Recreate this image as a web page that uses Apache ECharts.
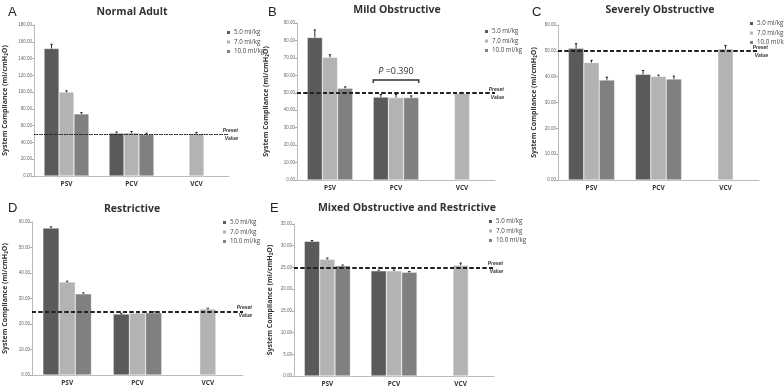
<!DOCTYPE html>
<html>
<head>
<meta charset="utf-8">
<script src="https://cdn.jsdelivr.net/npm/echarts@6/dist/echarts.min.js"></script>
<style>
html, body { margin: 0; padding: 0; background: #fff; }
#main { width: 784px; height: 389px; }
</style>
</head>
<body>
<div id="main"></div>
<script>
// categories and series
var categories = ['PSV', 'PCV', 'VCV'];
var seriesNames = ['5.0 ml/kg', '7.0 ml/kg', '10.0 ml/kg'];
var barColors = ['#5a5a5a', '#b3b3b3', '#808080'];

// A - Normal Adult  (rows: 5.0, 7.0, 10.0 ml/kg)
var meanA = [[152, 51, null], [100, 51.5, 50.5], [74, 49.5, null]];
var errA = [[5, 1.5, 0], [1.5, 1.5, 1.5], [1.5, 1.5, 0]];
// B - Mild Obstructive
var meanB = [[81.7, 47.5, null], [70.3, 47.2, 49.7], [52.6, 47.2, null]];
var errB = [[4.3, 1.5, 0], [1.5, 1.8, 0.5], [0.8, 1.0, 0]];
// C - Severely Obstructive
var meanC = [[51.0, 40.9, null], [45.5, 40.1, 50.8], [38.7, 39.1, null]];
var errC = [[1.8, 1.5, 0], [0.8, 0.5, 1.3], [1.1, 1.1, 0]];
// D - Restrictive
var meanD = [[57.6, 23.9, null], [36.5, 24.3, 25.9], [31.8, 24.4, null]];
var errD = [[0.5, 0.3, 0], [0.3, 0.3, 0.3], [0.4, 0.4, 0]];
// E - Mixed Obstructive and Restrictive
var meanE = [[31.0, 24.2, null], [26.9, 24.2, 25.5], [25.4, 23.9, null]];
var errE = [[0.2, 0.15, 0], [0.25, 0.2, 0.5], [0.15, 0.15, 0]];

var presetA = 50, presetB = 50, presetC = 50, presetD = 25, presetE = 25;
var pBracketB = { cat: 1, value: 57.3, textValue: 62, text: '0.390' };

var yMax = [180, 90, 60, 60, 35];
var yStep = [20, 10, 10, 10, 5];

var panels = [
	{ letter: 'A', title: 'Normal Adult', mean: meanA, err: errA, preset: presetA, dotted: true,
		grid: { left: 34, top: 25, width: 195, height: 151 }, nameGap: 26,
		legend: { left: 220, top: 24 }, tx: 127, ty: 2, lx: 3, ly: 1 },
	{ letter: 'B', title: 'Mild Obstructive', mean: meanB, err: errB, preset: presetB,
		grid: { left: 297, top: 23, width: 198, height: 157 }, nameGap: 28,
		legend: { left: 478, top: 23 }, tx: 392, ty: 0, lx: 263, ly: 1 },
	{ letter: 'C', title: 'Severely Obstructive', mean: meanC, err: errC, preset: presetC,
		grid: { left: 558, top: 25, width: 201, height: 155 }, nameGap: 21,
		legend: { left: 743, top: 15 }, tx: 655, ty: 0, lx: 527, ly: 1 },
	{ letter: 'D', title: 'Restrictive', mean: meanD, err: errD, preset: presetD,
		grid: { left: 30, top: 222, width: 213, height: 153 }, nameGap: 24,
		legend: { left: 216, top: 214 }, tx: 127, ty: 199, lx: 3, ly: 197 },
	{ letter: 'E', title: 'Mixed Obstructive and Restrictive', mean: meanE, err: errE, preset: presetE,
		grid: { left: 294, top: 224, width: 200, height: 152 }, nameGap: 21,
		legend: { left: 482, top: 213 }, tx: 402, ty: 198, lx: 265, ly: 197 }
];

var BAR_FRAC = 0.23;

var myChart = echarts.init(document.getElementById('main'));
var titles = [], grids = [], xAxes = [], yAxes = [], legends = [], series = [];

panels.forEach(function(p, k) {
	titles.push({
		text: p.letter, left: p.lx, top: p.ly,
		textStyle: { fontSize: 13, fontWeight: 'normal', color: '#222', fontFamily: 'Liberation Sans' }
	});
	titles.push({
		text: p.title, left: p.tx, top: p.ty, textAlign: 'center',
		textStyle: { fontSize: 10.5, fontWeight: 'bold', color: '#333', fontFamily: 'Open Sans' }
	});
	grids.push(p.grid);
	xAxes.push({
		type: 'category', gridIndex: k, data: categories,
		axisLine: { lineStyle: { color: '#aaa', width: 0.8 } },
		axisTick: { length: 3, lineStyle: { color: '#aaa' } },
		axisLabel: { fontSize: 6.5, fontWeight: 'bold', color: '#333', margin: 5, fontFamily: 'Open Sans' }
	});
	yAxes.push({
		type: 'value', gridIndex: k, min: 0, max: yMax[k], interval: yStep[k],
		name: 'System Compliance (ml/cmH\u2082O)', nameLocation: 'middle', nameGap: p.nameGap,
		nameTextStyle: { fontSize: 7, fontWeight: 'bold', color: '#333', fontFamily: 'Open Sans' },
		splitLine: { show: false },
		axisLine: { show: true, lineStyle: { color: '#aaa', width: 0.8 } },
		axisTick: { show: true, length: 2, lineStyle: { color: '#aaa' } },
		axisLabel: {
			fontSize: 4.5, color: '#666', margin: 2,
			formatter: function(v) { return v.toFixed(2); }
		}
	});
	legends.push({
		left: p.legend.left, top: p.legend.top, orient: 'vertical',
		icon: 'rect', itemWidth: 5, itemHeight: 5, itemGap: 2.5,
		data: seriesNames.map(function(n, i) { return { name: n, itemStyle: { color: barColors[i] } }; }),
		textStyle: { fontSize: 6.2, color: '#444', padding: [0, 0, 0, -2], fontFamily: 'Open Sans' },
		selectedMode: false
	});

	seriesNames.forEach(function(name, s) {
		var bar = {
			name: name, type: 'bar', xAxisIndex: k, yAxisIndex: k,
			barWidth: (BAR_FRAC * 100) + '%', barGap: '0%',
			itemStyle: { color: barColors[s], borderColor: '#fff', borderWidth: 0.4 },
			data: p.mean[s], silent: true, animation: false
		};
		if (s === 1) {
			bar.markLine = {
				silent: true, symbol: 'none', animation: false,
				lineStyle: p.dotted
					? { color: '#222', type: [1.5, 1], width: 1 }
					: { color: '#222', type: [4, 2.5], width: 1.8 },
				data: [
					{ yAxis: p.preset, label: { show: true, position: 'insideEndTop', formatter: 'Preset', distance: [-9, 1], fontSize: 5, fontStyle: 'italic', fontWeight: 'bold', color: '#333' } },
					{ yAxis: p.preset, label: { show: true, position: 'insideEndBottom', formatter: 'Value', distance: [-9, 2], fontSize: 5, fontStyle: 'italic', fontWeight: 'bold', color: '#333' } }
				]
			};
		}
		series.push(bar);
	});

	// error bars
	var errData = [];
	for (var s = 0; s < 3; s++) {
		for (var c = 0; c < categories.length; c++) {
			if (p.mean[s][c] != null) errData.push([c, p.mean[s][c], p.err[s][c], s]);
		}
	}
	series.push({
		type: 'custom', xAxisIndex: k, yAxisIndex: k, silent: true, animation: false,
		encode: { x: 0, y: 1 },
		data: errData,
		renderItem: function(params, api) {
			var c = api.value(0), m = api.value(1), e = api.value(2), s = api.value(3);
			var band = api.size([1, 0])[0];
			var bw = band * BAR_FRAC;
			var x = api.coord([c, m])[0] + (s - 1) * bw;
			var y1 = api.coord([c, m + e])[1];
			var y2 = api.coord([c, m - e])[1];
			var cap = 1.2;
			var st = { stroke: '#111', lineWidth: 0.9 };
			return {
				type: 'group',
				children: [
					{ type: 'line', shape: { x1: x, y1: y1, x2: x, y2: y2 }, style: st },
					{ type: 'line', shape: { x1: x - cap, y1: y1, x2: x + cap, y2: y1 }, style: st },
					{ type: 'line', shape: { x1: x - cap, y1: y2, x2: x + cap, y2: y2 }, style: st }
				]
			};
		}
	});
});

// P-value bracket on panel B
series.push({
	type: 'custom', xAxisIndex: 1, yAxisIndex: 1, silent: true, animation: false,
	encode: { x: 0, y: 1 },
	data: [[pBracketB.cat, pBracketB.value, pBracketB.textValue]],
	renderItem: function(params, api) {
		var c = api.value(0);
		var band = api.size([1, 0])[0];
		var half = band * BAR_FRAC * 1.5;
		var p0 = api.coord([c, api.value(1)]);
		var yt = api.coord([c, api.value(2)])[1];
		var st = { stroke: '#333', lineWidth: 1.4, fill: null };
		return {
			type: 'group',
			children: [
				{ type: 'polyline', shape: { points: [[p0[0] - half, p0[1] + 3], [p0[0] - half, p0[1]], [p0[0] + half, p0[1]], [p0[0] + half, p0[1] + 3]] }, style: st },
				{ type: 'text', x: p0[0], y: yt, style: {
					text: '{i|P} =' + pBracketB.text, align: 'center', verticalAlign: 'middle',
					fill: '#333', fontSize: 9, fontFamily: 'Open Sans',
					rich: { i: { fontStyle: 'italic', fontSize: 9, fill: '#333', fontFamily: 'Open Sans' } }
				} }
			]
		};
	}
});

var option = {
	animation: false,
	title: titles,
	grid: grids,
	xAxis: xAxes,
	yAxis: yAxes,
	legend: legends,
	series: series
};
myChart.setOption(option, true);
</script>
</body>
</html>
